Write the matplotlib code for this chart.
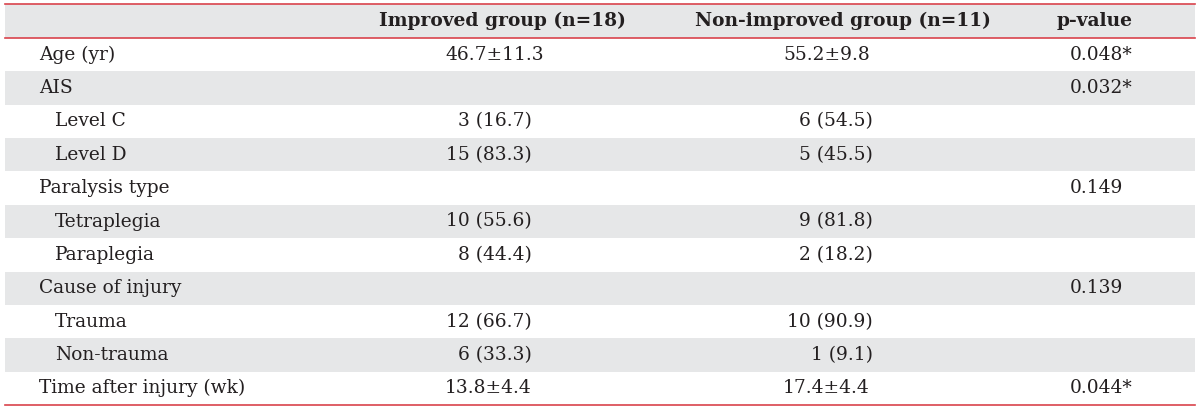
import matplotlib
matplotlib.use('Agg')
import matplotlib.pyplot as plt

# table content
labels = ['Age (yr)', 'AIS', 'Level C', 'Level D', 'Paralysis type', 'Tetraplegia',
          'Paraplegia', 'Cause of injury', 'Trauma', 'Non-trauma', 'Time after injury (wk)']
indent = [0, 0, 1, 1, 0, 1, 1, 0, 1, 1, 0]
improved = ['46.7±11.3', '', '3 (16.7)', '15 (83.3)', '', '10 (55.6)', '8 (44.4)',
            '', '12 (66.7)', '6 (33.3)', '13.8±4.4']
nonimproved = ['55.2±9.8', '', '6 (54.5)', '5 (45.5)', '', '9 (81.8)', '2 (18.2)',
               '', '10 (90.9)', '1 (9.1)', '17.4±4.4']
pvals = ['0.048*', '0.032*', '', '', '0.149', '', '', '0.139', '', '', '0.044*']
headers = ['Improved group (n=18)', 'Non-improved group (n=11)', 'p-value']

W, H = 1200, 407
fig = plt.figure(figsize=(W / 100, H / 100), dpi=100)
ax = fig.add_axes([0, 0, 1, 1])
ax.set_xlim(0, W)
ax.set_ylim(H, 0)
ax.axis('off')

grey = '#e6e7e8'
red = '#d9434c'
txt = '#231f20'
font = 'DejaVu Serif'
fs = 13.4

top, head_bot, bot = 4, 38, 405
rh = (bot - head_bot) / len(labels)
x0, x1 = 5, 1195

# header
ax.axhspan(top, head_bot, xmin=x0 / W, xmax=x1 / W, color=grey, lw=0)
hy = (top + head_bot) / 2
for hx, h in zip([502, 843, 1095], headers):
    ax.text(hx, hy, h, ha='center', va='center', fontsize=fs, fontweight='bold',
            color=txt, family=font)

for i, lab in enumerate(labels):
    y0 = head_bot + i * rh
    yc = y0 + rh / 2
    if i % 2 == 1:
        ax.axhspan(y0, y0 + rh, xmin=x0 / W, xmax=x1 / W, color=grey, lw=0)
    ax.text(39 + 16 * indent[i], yc, lab, ha='left', va='center', fontsize=fs,
            color=txt, family=font)
    for v, lx, rx in [(improved[i], 445, 532), (nonimproved[i], 783, 873)]:
        if not v:
            continue
        if '±' in v:
            ax.text(lx, yc, v, ha='left', va='center', fontsize=fs, color=txt, family=font)
        else:
            ax.text(rx, yc, v, ha='right', va='center', fontsize=fs, color=txt, family=font)
    if pvals[i]:
        ax.text(1070, yc, pvals[i], ha='left', va='center', fontsize=fs, color=txt, family=font)

for y in [top, head_bot, bot]:
    ax.plot([x0, x1], [y, y], color=red, lw=1.2)

fig.savefig('out.png', dpi=100, facecolor='white')
